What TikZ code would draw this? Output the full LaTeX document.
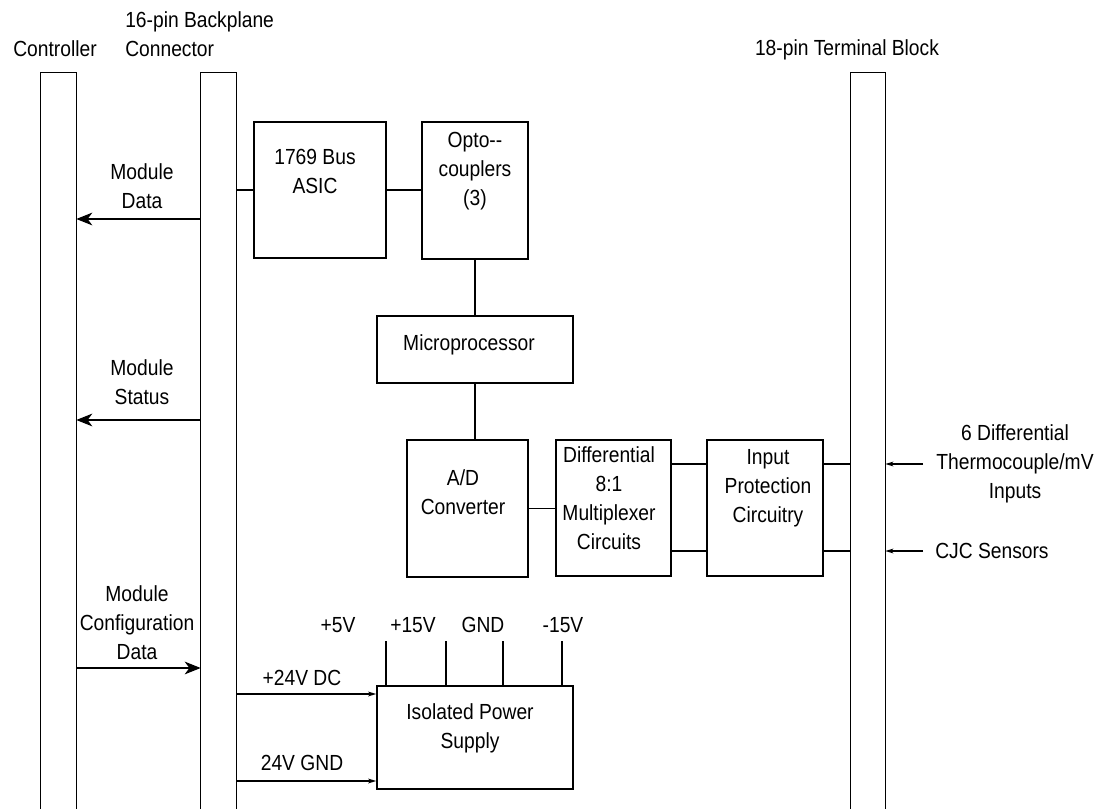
\documentclass[tikz,border=0pt]{standalone}
\usepackage{fontspec}
\setmainfont{Liberation Sans}[FakeStretch=0.88]
\usetikzlibrary{arrows.meta,fit}

\tikzset{
  blk/.style={draw, line width=1.1pt, inner sep=0pt},
  bar/.style={inner sep=0pt},
  txt/.style={align=center, inner sep=0pt, font=\fontsize{16.4}{21.75}\selectfont},
  wire/.style={line width=1.1pt},
  bigarr/.style={wire, -{Stealth[length=12pt,width=9.5pt,inset=3.5pt]}},
  smallarr/.style={wire, -{Stealth[length=6pt,width=3.5pt,inset=1.5pt]}},
}

\begin{document}
\begin{tikzpicture}[x=0.75pt, y=-0.75pt]
\useasboundingbox (0,0) rectangle (1105,809);

% the three vertical bars, open at the bottom
\node[bar, fit={(41,73) (76,809)}] (ctrl) {};
\node[bar, fit={(201,73) (236,809)}] (bp) {};
\node[bar, fit={(851,73) (885,809)}] (tb) {};
\foreach \b in {ctrl,bp,tb}
  \draw[wire] (\b.south west) -- (\b.north west) -- (\b.north east) -- (\b.south east);

\node[txt] (ctrlt) at (55,49) {Controller};
\node[txt, anchor=west, align=left] (bpt) at (125,34) {16-pin Backplane\\Connector};
\node[txt] (tbt) at (847,50) {18-pin Terminal Block};

% blocks
\node[blk, fit={(254,122) (386,258)}] (asic) {};
\node[blk, fit={(422,122) (528,259)}] (opto) {};
\node[blk, fit={(377,316) (573,383)}] (micro) {};
\node[blk, fit={(407,440) (528,577)}] (adc) {};
\node[blk, fit={(556,440) (671,576)}] (mux) {};
\node[blk, fit={(707,440) (823,576)}] (prot) {};
\node[blk, fit={(377,686) (573,789)}] (psu) {};

\node[txt] (asict) at (315,171) {1769 Bus\\ASIC};
\node[txt] (optot) at (475,171) {Opto-{}-\\couplers\\(3)};
\node[txt] (microt) at (469,345) {Microprocessor};
\node[txt] (adct) at (463,492) {A/D\\Converter};
\node[txt] (muxt) at (609,498) {Differential\\8:1\\Multiplexer\\Circuits};
\node[txt] (prott) at (768,488) {Input\\Protection\\Circuitry};
\node[txt] (psut) at (470,728) {Isolated Power\\Supply};

% internal wiring
\draw[wire] (asic.west) -- (asic.west -| bp.east);
\draw[wire] (asic.east) -- (asic.east -| opto.west);
\draw[wire] (opto.south) -- (micro.north);
\draw[wire] (micro.south) -- (micro.south |- adc.north);
\draw[wire] (adc.east) -- (adc.east -| mux.west);

\coordinate (tcin) at (923,464);
\coordinate (cjc) at (923,551);
\foreach \c in {tcin,cjc} {
  \draw[wire] (mux.east |- \c) -- (prot.west |- \c);
  \draw[wire] (prot.east |- \c) -- (tb.west |- \c);
  \draw[smallarr] (\c) -- (\c -| tb.east);
}
\node[txt] (tcint) at (1015,464) {6 Differential\\Thermocouple/mV\\Inputs};
\node[txt, anchor=west] (cjct) at (935,551) {CJC Sensors};

% controller <-> backplane
\coordinate (mdata) at (140,219);
\coordinate (mstat) at (140,420);
\coordinate (mconf) at (140,668);
\draw[bigarr] (mdata -| bp.west) -- (mdata -| ctrl.east);
\draw[bigarr] (mstat -| bp.west) -- (mstat -| ctrl.east);
\draw[bigarr] (mconf -| ctrl.east) -- (mconf -| bp.west);
\node[txt] (mdatat) at (142,186) {Module\\Data};
\node[txt] (mstatt) at (142,382) {Module\\Status};
\node[txt] (mconft) at (137,623) {Module\\Configuration\\Data};

% power supply
\coordinate (vdc) at (300,694);
\coordinate (vgnd) at (300,781);
\draw[smallarr] (vdc -| bp.east) -- (vdc -| psu.west);
\draw[smallarr] (vgnd -| bp.east) -- (vgnd -| psu.west);
\node[txt] (vdct) at (302,678) {+24V DC};
\node[txt] (vgndt) at (302,763) {24V GND};

\foreach \x/\lx/\t in {386/338/+5V, 446/413/+15V, 503/483/GND, 562/563/-15V} {
  \coordinate (pin\x) at (\x,641);
  \draw[wire] (pin\x) -- (pin\x |- psu.north);
  \node[txt] at (\lx,625) {\t};
}
\end{tikzpicture}
\end{document}
